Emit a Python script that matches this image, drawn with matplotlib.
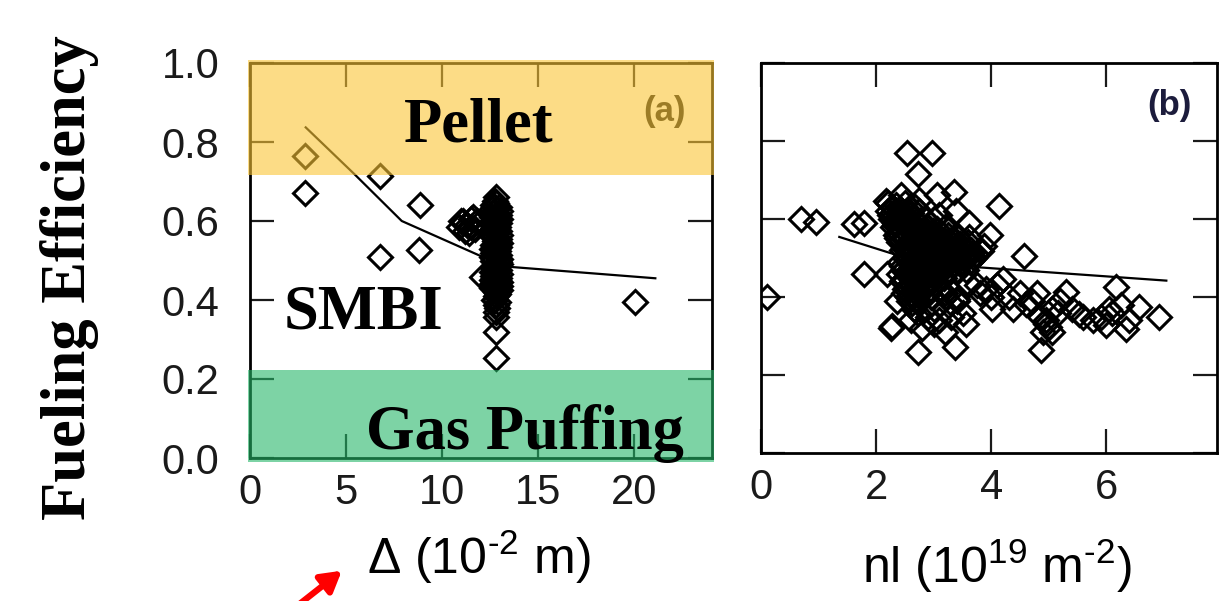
import matplotlib
matplotlib.use('Agg')
import matplotlib.pyplot as plt
from matplotlib.patches import Rectangle, FancyArrowPatch

plt.rcParams['font.family'] = ['Liberation Sans', 'DejaVu Sans']
plt.rcParams['mathtext.fontset'] = 'custom'
plt.rcParams['mathtext.rm'] = 'Liberation Sans'
plt.rcParams['mathtext.it'] = 'Liberation Sans:italic'

# panel (a): fueling efficiency vs Delta (10^-2 m)
a_x = [2.86, 2.86, 6.78, 8.87, 6.78, 8.78, 20.06, 12.1,
       10.9, 11.1, 11.3, 11.5, 11.7, 11.9, 11.2, 11.6, 11.4, 11.8, 11.0, 11.5,
       12.8, 12.8, 12.8, 12.8, 12.8, 12.7, 12.9, 12.8, 12.7, 12.9,
       12.8, 12.7, 12.9, 12.8, 12.7, 12.9, 12.8, 12.7, 12.9, 12.8,
       12.7, 12.9, 12.8, 12.7, 12.9, 12.8, 12.8, 12.7, 12.9, 12.8,
       12.8, 12.8, 12.8, 12.8,
       12.65, 12.95, 12.65, 12.95, 12.65, 12.95, 12.65, 12.95, 12.65, 12.95,
       12.65, 12.95, 12.65, 12.95, 12.65, 12.95, 12.65, 12.95, 12.65, 12.95,
       12.6, 13.0, 12.6, 13.0, 12.6, 13.0, 12.6, 13.0, 12.6, 13.0,
       12.75, 12.85, 12.75, 12.85, 12.75, 12.85, 12.75, 12.85,
       12.6, 13.0, 12.6, 13.0, 12.6, 13.0, 12.6, 13.0, 12.6, 13.0,
       12.7, 12.9, 12.7, 12.9, 12.7, 12.9, 12.7, 12.9]
a_y = [0.764, 0.67, 0.713, 0.64, 0.508, 0.527, 0.395, 0.459,
       0.585, 0.60, 0.59, 0.605, 0.58, 0.595, 0.575, 0.61, 0.57, 0.60, 0.60, 0.585,
       0.662, 0.645, 0.63, 0.615, 0.60, 0.59, 0.585, 0.57, 0.56, 0.55,
       0.54, 0.53, 0.525, 0.515, 0.505, 0.50, 0.49, 0.48, 0.475, 0.465,
       0.455, 0.45, 0.44, 0.43, 0.425, 0.42, 0.41, 0.40, 0.395, 0.387,
       0.37, 0.356, 0.318, 0.252,
       0.64, 0.635, 0.62, 0.615, 0.60, 0.595, 0.58, 0.575, 0.56, 0.555,
       0.54, 0.535, 0.52, 0.515, 0.50, 0.495, 0.48, 0.475, 0.46, 0.455,
       0.63, 0.625, 0.57, 0.565, 0.51, 0.505, 0.45, 0.445, 0.43, 0.425,
       0.65, 0.61, 0.55, 0.53, 0.47, 0.44, 0.40, 0.38,
       0.61, 0.605, 0.59, 0.545, 0.53, 0.49, 0.47, 0.465, 0.44, 0.435,
       0.635, 0.605, 0.575, 0.545, 0.52, 0.485, 0.445, 0.415]
a_fit_x = [2.9, 5.47, 7.9, 12.3, 13.5, 21.1]
a_fit_y = [0.837, 0.717, 0.60, 0.505, 0.484, 0.455]

# panel (b): fueling efficiency vs nl (10^19 m^-2)
b_x = [0.11, 0.69, 0.95, 1.62, 1.79, 1.79, 2.25, 2.27, 2.54, 2.97, 2.73, 2.73, 3.37,
       4.14, 4.57, 4.86, 6.17, 6.91, 6.57, 6.34, 5.99, 5.76, 5.53, 5.30, 5.00,
       5.06, 4.80, 4.60, 4.37, 4.20, 4.02, 3.80, 3.62, 3.56, 3.20, 3.20, 3.00,
       3.00, 2.72, 2.48, 2.19, 2.37, 2.66, 3.40, 3.75, 4.95, 5.15, 4.90, 6.10,
       6.25, 5.90, 2.17, 2.43, 2.74, 3.06, 3.35, 3.38, 3.62, 3.97, 3.62, 3.10,
       3.90, 4.30, 4.50, 4.70, 5.20, 5.40, 5.60, 6.40, 6.05, 4.10, 3.30, 3.50,
       2.90, 2.60, 2.80, 3.10, 4.95, 5.05, 4.85, 4.00,
       2.20, 2.35, 2.50, 2.28, 2.42, 2.58,
       2.20, 2.30, 2.45, 2.60, 2.75, 2.68, 2.52, 2.38,
       2.25, 2.40, 2.55, 2.70, 2.85, 3.00, 2.33, 2.48, 2.63, 2.78, 2.93,
       2.30, 2.45, 2.60, 2.75, 2.90, 3.05, 3.20, 2.38, 2.53, 2.68, 2.83, 2.98, 3.13,
       2.35, 2.50, 2.65, 2.80, 2.95, 3.10, 3.25, 3.40, 2.43, 2.58, 2.73, 2.88, 3.03, 3.18, 3.33,
       2.40, 2.55, 2.70, 2.85, 3.00, 3.15, 3.30, 3.45, 3.60, 2.48, 2.63, 2.78, 2.93, 3.08, 3.23, 3.38, 3.53,
       2.45, 2.60, 2.75, 2.90, 3.05, 3.20, 3.35, 3.50, 3.65, 3.80, 2.53, 2.68, 2.83, 2.98, 3.13, 3.28, 3.43, 3.58, 3.73, 3.88,
       2.50, 2.65, 2.80, 2.95, 3.10, 3.25, 3.40, 3.55, 3.70, 2.58, 2.73, 2.88, 3.03, 3.18, 3.33, 3.48, 3.63,
       2.45, 2.60, 2.75, 2.90, 3.05, 3.20, 2.53, 2.68, 2.83, 2.98, 3.13,
       2.40, 2.55, 2.70, 2.85, 3.00, 2.48, 2.63, 2.78, 2.93,
       2.45, 2.60, 2.75, 2.90, 2.53, 2.68, 2.83,
       2.50, 2.65, 2.80, 3.10, 3.30, 2.58, 2.73, 3.20,
       2.55, 2.70, 2.95, 3.20, 3.40, 2.63, 3.30,
       2.24, 2.32, 2.47, 2.62, 2.77, 2.92, 3.07, 3.22, 3.37, 3.52, 3.67, 3.82,
       2.29, 2.44, 2.59, 2.74, 2.89, 3.04, 3.19, 3.34, 3.49, 3.64,
       2.36, 2.51, 2.66, 2.81, 2.96, 3.11, 3.26, 3.41, 3.56,
       2.42, 2.57, 2.72, 2.87, 3.02, 3.17,
       2.47, 2.62, 2.77, 2.92, 2.57, 2.72, 2.87]
b_y = [0.40, 0.60, 0.593, 0.586, 0.59, 0.46, 0.32, 0.325, 0.768, 0.768, 0.715, 0.26, 0.272,
       0.634, 0.504, 0.264, 0.425, 0.35, 0.374, 0.319, 0.327, 0.34, 0.357, 0.412, 0.323,
       0.37, 0.41, 0.382, 0.37, 0.446, 0.37, 0.41, 0.433, 0.33, 0.31, 0.37, 0.33,
       0.37, 0.36, 0.41, 0.46, 0.39, 0.37, 0.39, 0.43, 0.34, 0.36, 0.31, 0.36,
       0.38, 0.35, 0.645, 0.662, 0.65, 0.662, 0.67, 0.62, 0.59, 0.56, 0.555, 0.61,
       0.42, 0.40, 0.41, 0.39, 0.39, 0.37, 0.35, 0.34, 0.37, 0.43, 0.35, 0.36,
       0.35, 0.34, 0.32, 0.34, 0.33, 0.31, 0.35, 0.40,
       0.64, 0.635, 0.64, 0.63, 0.625, 0.63,
       0.62, 0.615, 0.62, 0.615, 0.62, 0.63, 0.605, 0.605,
       0.60, 0.595, 0.60, 0.595, 0.60, 0.60, 0.585, 0.585, 0.59, 0.585, 0.59,
       0.58, 0.575, 0.58, 0.575, 0.58, 0.575, 0.58, 0.565, 0.565, 0.57, 0.565, 0.57, 0.565,
       0.56, 0.555, 0.56, 0.555, 0.56, 0.555, 0.56, 0.555, 0.545, 0.545, 0.55, 0.545, 0.55, 0.545, 0.55,
       0.54, 0.535, 0.54, 0.535, 0.54, 0.535, 0.54, 0.535, 0.54, 0.525, 0.525, 0.53, 0.525, 0.53, 0.525, 0.53, 0.525,
       0.52, 0.515, 0.52, 0.515, 0.52, 0.515, 0.52, 0.515, 0.52, 0.52, 0.505, 0.505, 0.51, 0.505, 0.51, 0.505, 0.51, 0.505, 0.51, 0.53,
       0.50, 0.495, 0.50, 0.495, 0.50, 0.495, 0.50, 0.495, 0.50, 0.485, 0.485, 0.49, 0.485, 0.49, 0.485, 0.49, 0.49,
       0.48, 0.475, 0.48, 0.475, 0.48, 0.475, 0.465, 0.465, 0.47, 0.465, 0.47,
       0.46, 0.455, 0.46, 0.455, 0.46, 0.445, 0.445, 0.45, 0.445,
       0.44, 0.435, 0.44, 0.435, 0.425, 0.425, 0.43,
       0.42, 0.415, 0.42, 0.42, 0.415, 0.405, 0.405, 0.41,
       0.40, 0.395, 0.40, 0.40, 0.395, 0.385, 0.385,
       0.61, 0.59, 0.588, 0.568, 0.55, 0.548, 0.528, 0.53, 0.51, 0.508, 0.512, 0.518,
       0.628, 0.608, 0.59, 0.57, 0.568, 0.55, 0.532, 0.512, 0.49, 0.492,
       0.552, 0.532, 0.512, 0.49, 0.47, 0.472, 0.47, 0.47, 0.47,
       0.49, 0.47, 0.452, 0.432, 0.43, 0.45,
       0.47, 0.45, 0.41, 0.41, 0.39, 0.392, 0.43]
b_fit_x = [1.36, 2.52, 3.79, 7.04]
b_fit_y = [0.554, 0.50, 0.476, 0.442]

a_ticks_x = [0, 5, 10, 15, 20]
b_ticks_x = [0, 2, 4, 6]
ticks_y = [0.0, 0.2, 0.4, 0.6, 0.8, 1.0]

fig = plt.figure(figsize=(12.21, 6.01), dpi=100)
ax1 = fig.add_axes([250/1221, 1-458/601, 462/1221, 395/601])
ax2 = fig.add_axes([761/1221, 1-453/601, 456/1221, 390/601])

mk = dict(marker='D', ms=12, mfc='none', mec='black', mew=2.2, ls='none', zorder=2)
ax1.plot(a_fit_x, a_fit_y, color='black', lw=1.6, zorder=2)
ax1.plot(a_x, a_y, **mk)
ax2.plot(b_fit_x, b_fit_y, color='black', lw=1.6, zorder=2)
ax2.plot(b_x, b_y, **mk)

ax1.set_xlim(0, 24.05)
ax1.set_ylim(0, 1.0)
ax2.set_xlim(0, 7.92)
ax2.set_ylim(0.01, 1.0)

for ax in (ax1, ax2):
    ax.set_yticks(ticks_y)
    ax.tick_params(direction='in', length=17, width=1.6, top=True, right=True,
                   labelsize=30, colors='#1a1a1a')
    for s in ax.spines.values():
        s.set_linewidth(2)
ax1.set_xticks(a_ticks_x)
ax2.set_xticks(b_ticks_x)
ax1.tick_params(axis='y', pad=22)
ax1.tick_params(axis='x', pad=11)
ax2.tick_params(axis='x', pad=11)
ax2.tick_params(axis='y', labelleft=False)
ax1.set_yticklabels(['0.0', '0.2', '0.4', '0.6', '0.8', '1.0'])

# translucent fueling-method bands over panel (a)
ax1.add_patch(Rectangle((-0.005, 0.717), 1.01, 0.29, transform=ax1.transAxes,
                        facecolor='#FAC535', alpha=0.6, lw=0, clip_on=False, zorder=3))
ax1.add_patch(Rectangle((-0.005, -0.01), 1.01, 0.234, transform=ax1.transAxes,
                        facecolor='#26B769', alpha=0.6, lw=0, clip_on=False, zorder=3))

big = dict(family=['Liberation Serif'], fontweight='bold', fontsize=45,
           ha='center', va='baseline', zorder=5)
ax1.text(11.92, 0.80, 'Pellet', **big)
ax1.text(5.9, 0.328, 'SMBI', **big)
ax1.text(14.33, 0.023, 'Gas Puffing', **big)

ax1.text(21.6, 0.852, '(a)', fontsize=25, fontweight='bold', color='#111111',
         ha='center', va='baseline', zorder=2)
ax2.text(7.1, 0.867, '(b)', fontsize=25, fontweight='bold', color='#1c1c3c',
         ha='center', va='baseline', zorder=2)

fig.text(70/1221, 1-278/601, 'Fueling Efficiency', family=['Liberation Serif'],
         fontweight='bold', fontsize=45, rotation=90, ha='center', va='center')
fig.text(479/1221, 1-557/601, r'Δ (10$^{\text{-}2}$ m)', fontsize=36, ha='center', va='center')
fig.text(997/1221, 1-566/601, r'nl (10$^{19}$ m$^{\text{-}2}$)', fontsize=36, ha='center', va='center')

arrow = FancyArrowPatch((297/1221, 1-606/601), (344/1221, 1-569/601),
                        transform=fig.transFigure, arrowstyle='-|>,head_length=12,head_width=7',
                        color='red', lw=4.5, clip_on=False)
fig.add_artist(arrow)

fig.savefig('out.png', dpi=100)
